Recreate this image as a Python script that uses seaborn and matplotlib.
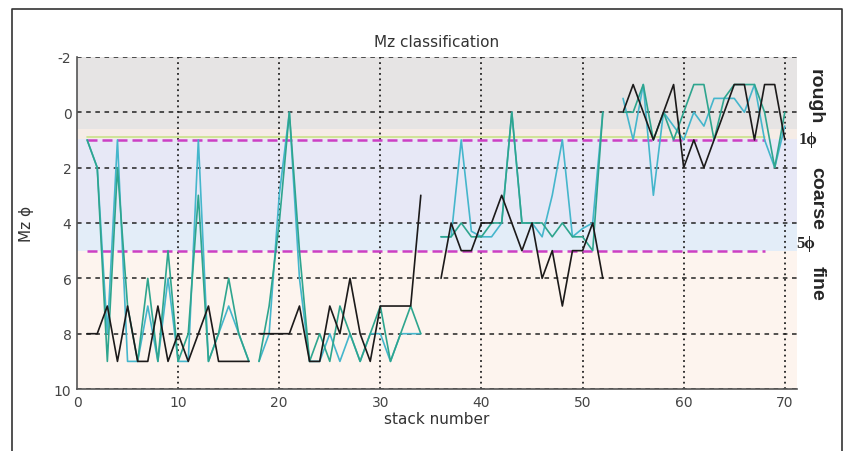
import numpy as np
import pandas as pd
import matplotlib.pyplot as plt
import matplotlib.ticker as ticker
import seaborn as sns

#=============================================================================
#Mz values per stack. Each series is split in 4 runs
#(stack 1-17, 18-34, 36-52, 54-70), lines are not joined between runs.
seg_start = [1, 18, 36, 54]

black = [
    [8, 8, 7, 9, 7, 9, 9, 7, 9, 8, 9, 8, 7, 9, 9, 9, 9],
    [8, 8, 8, 8, 7, 9, 9, 7, 8, 6, 8, 9, 7, 7, 7, 7, 3],
    [6, 4, 5, 5, 4, 4, 3, 4, 5, 4, 6, 5, 7, 5, 5, 4, 6],
    [0, -1, 0, 1, 0, -1, 2, 1, 2, 1, 0, -1, -1, 1, -1, -1, 1],
]
teal = [
    [1, 2, 9, 2, 7, 9, 6, 9, 5, 9, 8, 3, 9, 8, 6, 8, 9],
    [9, 7, 4, 0, 5, 9, 8, 9, 7, 8, 9, 8, 7, 9, 8, 7, 8],
    [4.5, 4.5, 4, 4.5, 4.5, 4, 4, 0, 4, 4, 4, 4.5, 4, 4.5, 4.5, 5, 0],
    [0, 0, -1, 1, 0, 1, 0, -1, -1, 1, -0.5, -1, -1, -1, 0, 2, 0],
]
cyan = [
    [1, 2, 8, 1, 9, 9, 7, 9, 6, 9, 9, 1, 9, 8, 7, 8, 9],
    [9, 8, 3, 0, 6, 9, 9, 8, 9, 8, 9, 8, 8, 9, 8, 8, 8],
    [4.5, 4.5, 1, 4.3, 4.5, 4.5, 4, 0, 4, 4, 4.5, 3, 1, 4.5, 4.2, 4, 0],
    [-0.5, 1, -1, 3, 0, 0.5, 1, 0, 0.5, -0.5, -0.5, -0.5, 0, -1, 1, 2, 0.5],
]

#class limits (phi)
lim_rough = 1
lim_fine = 5

#=============================================================================
#Build long-form table
rows = []
for name, series in [('black', black), ('teal', teal), ('cyan', cyan)]:
    for k, vals in enumerate(series):
        for i, v in enumerate(vals):
            rows.append({'series': name, 'seg': k,
                         'stack': seg_start[k] + i, 'Mz': v})
df = pd.DataFrame(rows)

cmap = {'black': '#1c1a1a', 'teal': '#2ea58e', 'cyan': '#45b6cc'}
ft = 11

#=============================================================================
with sns.axes_style('white'):
    plt.rcParams['axes.unicode_minus'] = False
    fig = plt.figure(figsize=(8.49, 4.52), dpi=100)
    ax = fig.add_axes([0.0907, 0.137, 0.848, 0.735])

    #class bands
    ax.axhspan(-2, 0.6, color='#e6e4e4', lw=0, zorder=0)
    ax.axhspan(0.6, 0.95, color='#f5ece6', lw=0, zorder=0)
    ax.axhspan(0.95, 4, color='#e7e8f6', lw=0, zorder=0)
    ax.axhspan(4, 5, color='#e3edf8', lw=0, zorder=0)
    ax.axhspan(5, 10, color='#fdf4ee', lw=0, zorder=0)

    #grid
    for yy in range(-2, 11, 2):
        ax.axhline(yy, color='#222222', lw=1.1, ls=(0, (3, 3)), zorder=1)
    for xx in range(10, 71, 10):
        ax.axvline(xx, color='#222222', lw=1.3, ls=(0, (1, 2)), zorder=1)

    #class limits
    ax.plot([1, 68], [0.88, 0.88], color='#c9e28a', lw=1.2, zorder=2)
    ax.plot([1, 68], [lim_rough, lim_rough], color='#cc3fc4', lw=1.8,
            ls=(0, (4, 2)), zorder=2)
    ax.plot([1, 68], [lim_fine, lim_fine], color='#cc3fc4', lw=1.8,
            ls=(0, (4, 2)), zorder=2)

    sns.lineplot(data=df, x='stack', y='Mz', hue='series', units='seg',
                 estimator=None, palette=cmap, lw=1.2, legend=False,
                 hue_order=['cyan', 'teal', 'black'], ax=ax, zorder=3)

    ax.set_xlim(0, 71.2)
    ax.set_ylim(10, -2)
    ax.xaxis.set_major_locator(ticker.MultipleLocator(10))
    ax.yaxis.set_major_locator(ticker.MultipleLocator(2))
    ax.tick_params('both', direction='in', length=4, labelsize=10,
                   colors='#444444', pad=4)
    for s in ['top', 'right']:
        ax.spines[s].set_visible(False)
    for s in ['left', 'bottom']:
        ax.spines[s].set_color('#555555')
        ax.spines[s].set_linewidth(1.2)

    ax.set_title('Mz classification', fontsize=ft, color='#333333', pad=8)
    ax.set_xlabel('stack number', fontsize=ft, color='#333333', labelpad=2)
    ax.set_ylabel('Mz ϕ', fontsize=ft, color='#333333', labelpad=14)

    #class names on the right
    kw = dict(rotation=270, ha='center', va='center', fontsize=14,
              fontweight='bold', family=['Liberation Sans', 'DejaVu Sans'])
    fig.text(815 / 849, 1 - 97 / 452, 'rough', **kw)
    fig.text(817 / 849, 1 - 198 / 452, 'coarse', **kw)
    fig.text(817 / 849, 1 - 283 / 452, 'fine', **kw)
    kw2 = dict(ha='center', va='center', fontsize=12, fontweight='bold',
               family=['Liberation Serif', 'DejaVu Serif'])
    fig.text(808 / 849, 1 - 140 / 452, '1ϕ', **kw2)
    fig.text(806 / 849, 1 - 244 / 452, '5ϕ', **kw2)

    #outer frame (open at the bottom)
    x0, x1, y1 = 12 / 849, 842 / 849, 1 - 10 / 452
    fig.add_artist(plt.Line2D([x0, x0, x1, x1], [0, y1, y1, 0],
                              color='#333333', lw=1.2))

    plt.savefig('out.png', dpi=100)
